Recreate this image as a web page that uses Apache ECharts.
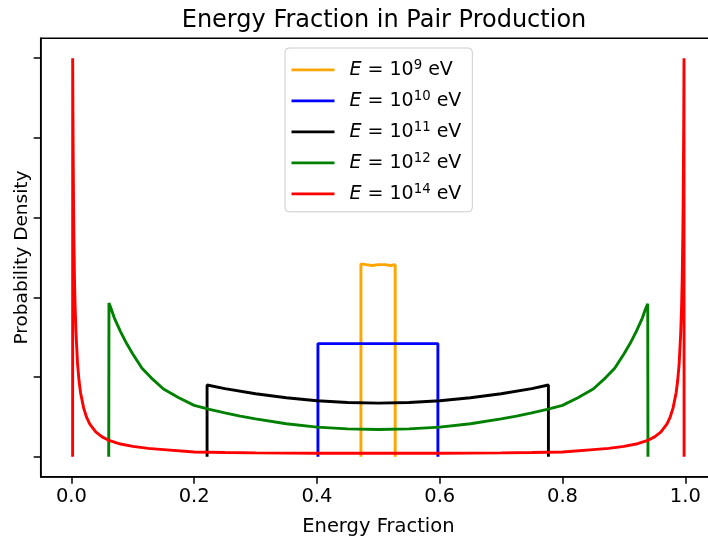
<!DOCTYPE html>
<html>
<head>
<meta charset="utf-8">
<script src="https://cdn.jsdelivr.net/npm/echarts@6/dist/echarts.min.js"></script>
<style>html,body{margin:0;padding:0;background:#fff}#c{width:708px;height:544px}</style>
</head>
<body>
<div id="c"></div>
<script>
// ---- data ----
var xTicks = [0.0, 0.2, 0.4, 0.6, 0.8, 1.0];
var yTicks = [0, 1, 2, 3, 4, 5];

var seriesNames = ['E9', 'E10', 'E11', 'E12', 'E14'];
var seriesExponents = ['9', '10', '11', '12', '14'];

var orangeX = [0.4716, 0.4716, 0.48, 0.49, 0.50, 0.51, 0.52, 0.5274, 0.5274];
var orangeY = [0, 2.42, 2.41, 2.40, 2.41, 2.41, 2.40, 2.41, 0];

var blueX = [0.4016, 0.4016, 0.45, 0.50, 0.55, 0.597, 0.597];
var blueY = [0, 1.42, 1.42, 1.42, 1.42, 1.42, 0];

var blackX = [0.221, 0.221, 0.25, 0.30, 0.35, 0.40, 0.45, 0.50, 0.55, 0.60, 0.65, 0.70, 0.75, 0.777, 0.777];
var blackY = [0, 0.90, 0.855, 0.79, 0.74, 0.703, 0.681, 0.673, 0.681, 0.703, 0.74, 0.79, 0.855, 0.90, 0];

var greenX = [0.0608, 0.0612, 0.065, 0.07, 0.08, 0.09, 0.10, 0.115, 0.13, 0.15, 0.175, 0.20, 0.225, 0.25, 0.275, 0.30, 0.35, 0.40, 0.45, 0.50,
              0.55, 0.60, 0.65, 0.70, 0.725, 0.75, 0.775, 0.80, 0.825, 0.85, 0.87, 0.885, 0.90, 0.91, 0.92, 0.93, 0.935, 0.9388, 0.9392];
var greenY = [0, 1.93, 1.85, 1.74, 1.57, 1.42, 1.29, 1.11, 0.99, 0.85, 0.74, 0.645, 0.595, 0.55, 0.51, 0.475, 0.415, 0.372, 0.35, 0.343,
              0.35, 0.372, 0.415, 0.475, 0.51, 0.55, 0.595, 0.645, 0.74, 0.85, 0.99, 1.11, 1.29, 1.42, 1.57, 1.74, 1.85, 1.92, 0];

var redX = [0.0020, 0.0021, 0.0025, 0.003, 0.0035, 0.004, 0.005, 0.006, 0.0075, 0.01, 0.0125, 0.015, 0.02, 0.025, 0.03, 0.04, 0.05, 0.06, 0.08, 0.10, 0.125, 0.15, 0.20, 0.25, 0.30, 0.35, 0.40, 0.45, 0.50,
            0.55, 0.60, 0.65, 0.70, 0.75, 0.80, 0.85, 0.875, 0.90, 0.92, 0.94, 0.95, 0.96, 0.97, 0.975, 0.98, 0.985, 0.9875, 0.99, 0.9925, 0.994, 0.995, 0.996, 0.9965, 0.997, 0.9975, 0.9979, 0.9980];
var redY = [0, 5.0, 4.3, 3.7, 3.2, 2.8, 2.25, 1.9, 1.55, 1.17, 0.95, 0.80, 0.61, 0.49, 0.41, 0.31, 0.25, 0.21, 0.16, 0.13, 0.105, 0.09, 0.06, 0.053, 0.049, 0.046, 0.045, 0.044, 0.044,
            0.044, 0.045, 0.046, 0.049, 0.053, 0.06, 0.09, 0.105, 0.13, 0.16, 0.21, 0.25, 0.31, 0.41, 0.49, 0.61, 0.80, 0.95, 1.17, 1.55, 1.9, 2.25, 2.8, 3.2, 3.7, 4.3, 5.0, 0];

var colors = ['#FFA500', '#0000FF', '#000000', '#008000', '#FF0000'];

// ---- build ----
function pairs(xs, ys) { return xs.map(function (x, i) { return [x, ys[i]]; }); }
var allData = [pairs(orangeX, orangeY), pairs(blueX, blueY), pairs(blackX, blackY), pairs(greenX, greenY), pairs(redX, redY)];

var FONT = 'DejaVu Sans';
var FS = 19.5;
var chart = echarts.init(document.getElementById('c'), null, { renderer: 'canvas' });

var series = seriesNames.map(function (n, i) {
  return {
    name: n, type: 'line', data: allData[i], showSymbol: false, symbol: 'none',
    lineStyle: { color: colors[i], width: 2.9 }, itemStyle: { color: colors[i] },
    animation: false, silent: true, z: 2 + i
  };
});

var option = {
  animation: false,
  backgroundColor: '#ffffff',
  textStyle: { fontFamily: FONT },
  title: {
    text: 'Energy Fraction in Pair Production',
    left: 379, top: 4, textAlign: 'center',
    textStyle: { fontFamily: FONT, fontSize: 24, fontWeight: 'normal', color: '#000' }
  },
  grid: { left: 40.7, top: 38.3, width: 675.3, height: 438.4, show: true, borderColor: '#000', borderWidth: 1.5,
          backgroundColor: 'transparent', containLabel: false, outerBoundsMode: 'none' },
  xAxis: {
    type: 'value', min: -0.05, max: 1.05,
    name: 'Energy Fraction', nameLocation: 'middle', nameGap: 40,
    nameTextStyle: { fontFamily: FONT, fontSize: FS, color: '#000' },
    axisLine: { show: true, onZero: false, lineStyle: { color: '#000', width: 1.5 } },
    axisTick: { show: true, inside: false, length: 7, lineStyle: { color: '#000', width: 1.5 }, customValues: xTicks },
    axisLabel: { show: true, margin: 10, fontFamily: FONT, fontSize: FS, color: '#000', customValues: xTicks,
      formatter: function (v) { return Number(v).toFixed(1); } },
    splitLine: { show: false }
  },
  yAxis: {
    type: 'value', min: -0.25, max: 5.25,
    name: 'Probability Density', nameLocation: 'middle', nameGap: 9,
    nameTextStyle: { fontFamily: FONT, fontSize: 18.5, color: '#000' },
    axisLine: { show: true, onZero: false, lineStyle: { color: '#000', width: 1.5 } },
    axisTick: { show: true, inside: false, length: 7, lineStyle: { color: '#000', width: 1.5 }, customValues: yTicks },
    axisLabel: { show: false },
    splitLine: { show: false }
  },
  legend: {
    orient: 'vertical', left: 285, top: 48,
    padding: [10.9, 11, 8.4, 6.5], itemGap: 10.5, itemWidth: 43, itemHeight: 2.9, icon: 'rect',
    backgroundColor: 'rgba(255,255,255,0.8)', borderColor: '#cccccc', borderWidth: 1, borderRadius: 4,
    data: seriesNames,
    textStyle: {
      fontFamily: FONT, fontSize: 19, color: '#000',
      rich: {
        sp: { width: 10 },
        it: { fontFamily: FONT, fontStyle: 'italic', fontSize: 19, lineHeight: 22, color: '#000' },
        t: { fontFamily: FONT, fontSize: 19, lineHeight: 22, color: '#000' },
        sup: { fontFamily: FONT, fontSize: 13.3, lineHeight: 13, verticalAlign: 'top', color: '#000' }
      }
    },
    formatter: function (name) {
      var e = seriesExponents[seriesNames.indexOf(name)];
      return '{sp|}{it|E}{t| = 10}{sup|' + e + '}{t| eV}';
    }
  },
  series: series
};
chart.setOption(option);
</script>
</body>
</html>
